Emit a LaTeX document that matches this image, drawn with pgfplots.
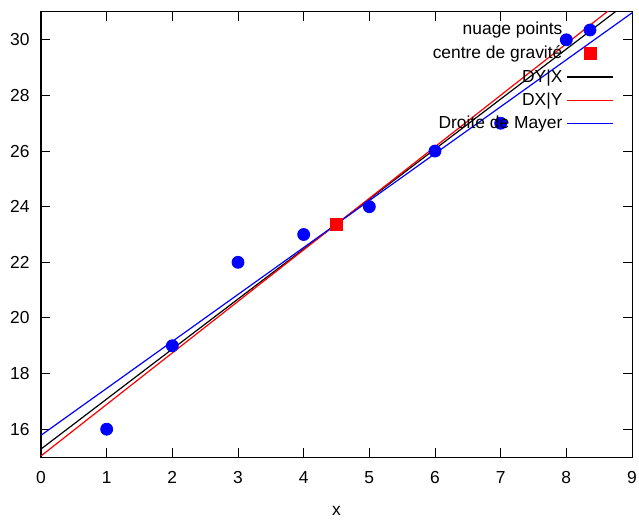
\documentclass[border=0pt]{standalone}
\usepackage{pgfplots}
\pgfplotsset{compat=1.18}
\usepackage{fontspec}
\setmainfont{Liberation Sans}
\newcommand\ls{\rule[-1.6pt]{0pt}{6.1pt}}

\begin{document}
\fontsize{8.7}{10.4}\selectfont
\begin{tikzpicture}
\begin{axis}[
  scale only axis,
  width=295.5pt, height=222.5pt,
  xmin=0, xmax=9, ymin=15, ymax=31,
  xtick={0,1,...,9}, ytick={16,18,...,30},
  tick align=inside,
  major tick length=4.5pt,
  axis line style={line width=0.5pt},
  every tick/.style={black,line width=0.5pt},
  /pgf/number format/assume math mode=true,
  tick label style={font=\fontsize{8.7}{10.4}\selectfont},
  xticklabel style={anchor=north,inner sep=0pt,yshift=-7pt},
  yticklabel style={anchor=east,inner sep=0pt,xshift=-5.5pt},
  xlabel={x},
  xlabel style={at={(axis description cs:0.5,-0.1213)},anchor=center,font=\fontsize{8.7}{10.4}\selectfont},
  legend style={at={(1,1)},anchor=north east,xshift=-8pt,yshift=-2pt,
    draw=none,fill=none,font=\fontsize{8.7}{10.4}\selectfont,
    row sep=0.1pt,inner sep=1pt},
  legend cell align=right,
  legend plot pos=right,
  legend image code/.code={\draw[mark repeat=2,mark phase=2,#1]
    plot coordinates {(2pt,0pt) (13.5pt,0pt) (25pt,0pt)};},
]
\addplot[only marks,mark=*,mark size=3pt,color=blue] coordinates {
  (1,16) (2,19) (3,22) (4,23) (5,24) (6,26) (7,27) (8,30)
};
\addlegendentry{\ls nuage points}
\addplot[only marks,mark=square*,mark size=3pt,color=red] coordinates {
  (4.5,23.375)
};
\addlegendentry{\ls centre de gravité}
\addplot[black,line width=0.6pt] coordinates {(0,15.286) (9,31.464)};
\addlegendentry{\ls DY|X}
\addplot[red,line width=0.6pt] coordinates {(0,15.038) (9,31.711)};
\addlegendentry{\ls DX|Y}
\addplot[blue,line width=0.6pt] coordinates {(0,15.781) (9,30.969)};
\addlegendentry{\ls Droite de Mayer}
\end{axis}
\path[use as bounding box] ([shift={(-20.5pt,-29.5pt)}]current axis.south west)
  rectangle ([shift={(3.5pt,6pt)}]current axis.north east);
\end{tikzpicture}
\end{document}
